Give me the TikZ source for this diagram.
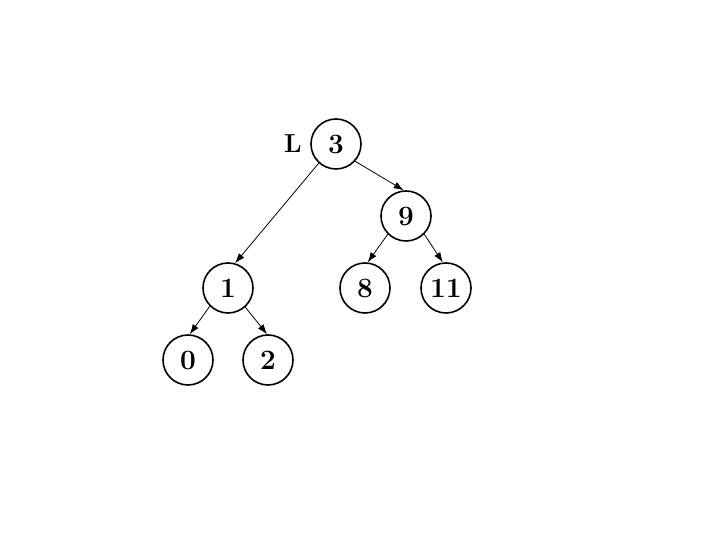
\documentclass[tikz,border=0pt]{standalone}
\usepackage{tikz}
\usetikzlibrary{arrows.meta}

\begin{document}
\begin{tikzpicture}[>={Latex[length=5pt,width=3.5pt]}, x=0.5pt, y=0.5pt]
  \tikzstyle{key} = [draw, thick, circle, fill=white, minimum size=25pt, inner sep=0pt, font={\fontsize{14}{16}\selectfont\bfseries}]
  \tikzstyle{treeEdge} = [black, thin, ->];
  \tikzstyle{tag} = [font={\fontsize{13}{15}\selectfont\bfseries}];

  \useasboundingbox (0,0) rectangle (720,540);

  \node[key] (n3)  at (336,396) {3};
  \node[key] (n9)  at (406,324) {9};
  \node[key] (n1)  at (228,252) {1};
  \node[key] (n8)  at (365,252) {8};
  \node[key] (n11) at (446,252) {11};
  \node[key] (n0)  at (188,180) {0};
  \node[key] (n2)  at (268,180) {2};
  \node[tag] (lbl) at (293,396) {L};

  \path (n3.-132) edge[treeEdge] (n1.74)
        (n3.-42)  edge[treeEdge] (n9.95)
        (n9.-135) edge[treeEdge] (n8.84)
        (n9.-45)  edge[treeEdge] (n11.97)
        (n1.-135) edge[treeEdge] (n0.86)
        (n1.-48)  edge[treeEdge] (n2.92);

\end{tikzpicture}
\end{document}
